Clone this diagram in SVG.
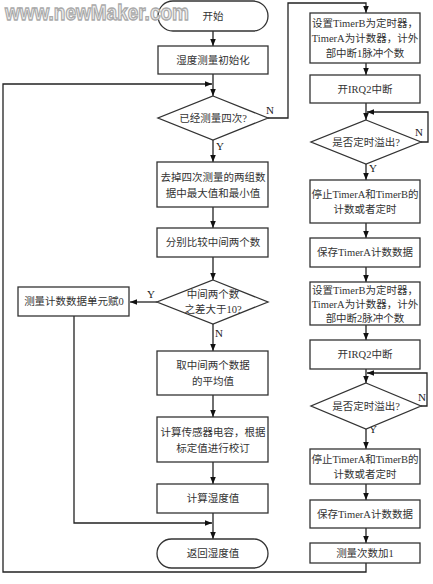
<svg xmlns="http://www.w3.org/2000/svg" width="433" height="584" viewBox="0 0 433 584">
<style>
.b{fill:#fff;stroke:#333;stroke-width:1.3}
.t{font-family:"Liberation Serif","Noto Sans CJK SC",serif;font-size:10.5px;fill:#333;text-anchor:middle}
.l{font-family:"Liberation Serif",serif;font-size:11px;fill:#222}
.c{fill:none;stroke:#222;stroke-width:1.3}
.wm{font-family:"Liberation Sans",sans-serif;font-weight:bold;font-size:19px;fill:#eee;stroke:#aaa;stroke-width:1.1}
</style>
<defs>
<marker id="a" viewBox="0 0 10 10" refX="10" refY="5" markerWidth="7" markerHeight="7" markerUnits="userSpaceOnUse" orient="auto">
<path d="M0,1 L10,5 L0,9 z" fill="#111"/>
</marker>
</defs>
<g id="connectors">
<path class="c" d="M213,31 V46" marker-end="url(#a)"/>
<path class="c" d="M213,74 V96" marker-end="url(#a)"/>
<path class="c" d="M366,563 V572 H3 V84 H212" marker-end="url(#a)"/>
<path class="c" d="M268,118 H288 V3 H366 V13" marker-end="url(#a)"/>
<path class="c" d="M213,140 V162" marker-end="url(#a)"/>
<path class="c" d="M213,207 V228" marker-end="url(#a)"/>
<path class="c" d="M213,257 V280" marker-end="url(#a)"/>
<path class="c" d="M157,302 H130" marker-end="url(#a)"/>
<path class="c" d="M213,324 V351" marker-end="url(#a)"/>
<path class="c" d="M213,395 V417" marker-end="url(#a)"/>
<path class="c" d="M213,462 V484" marker-end="url(#a)"/>
<path class="c" d="M213,513 V539" marker-end="url(#a)"/>
<path class="c" d="M74,316 V523 H212" marker-end="url(#a)"/>
<path class="c" d="M366,63 V75" marker-end="url(#a)"/>
<path class="c" d="M366,103 V120" marker-end="url(#a)"/>
<path class="c" d="M421,142 H428 V112 H367" marker-end="url(#a)"/>
<path class="c" d="M366,164 V180" marker-end="url(#a)"/>
<path class="c" d="M366,223 V238" marker-end="url(#a)"/>
<path class="c" d="M366,267 V282" marker-end="url(#a)"/>
<path class="c" d="M366,325 V340" marker-end="url(#a)"/>
<path class="c" d="M366,369 V383" marker-end="url(#a)"/>
<path class="c" d="M421,406 H427 V373 H367" marker-end="url(#a)"/>
<path class="c" d="M366,429 V449" marker-end="url(#a)"/>
<path class="c" d="M366,484 V500" marker-end="url(#a)"/>
<path class="c" d="M366,528 V543" marker-end="url(#a)"/>
<text class="l" x="266" y="114">N</text>
<text class="l" x="216" y="150">Y</text>
<text class="l" x="147" y="298">Y</text>
<text class="l" x="215" y="337">N</text>
<text class="l" x="415" y="136">N</text>
<text class="l" x="369" y="172">Y</text>
<text class="l" x="418" y="401">N</text>
<text class="l" x="369" y="433">Y</text>
</g>
<g id="start"><rect class="b" x="158" y="1" width="110" height="30" rx="15"/><text class="t" x="213" y="20">开始</text></g>
<g id="init"><rect class="b" x="158" y="46" width="110" height="28"/><text class="t" x="213" y="64">湿度测量初始化</text></g>
<g id="d1"><polygon class="b" points="213,96 268,118 213,140 158,118"/><text class="t" x="213" y="122">已经测量四次?</text></g>
<g id="remove"><rect class="b" x="157" y="162" width="111" height="45"/><text class="t" x="213" y="181">去掉四次测量的两组数</text><text class="t" x="213" y="197">据中最大值和最小值</text></g>
<g id="compare"><rect class="b" x="157" y="228" width="111" height="29"/><text class="t" x="213" y="246">分别比较中间两个数</text></g>
<g id="d2"><polygon class="b" points="213,280 268,302 213,324 157,302"/><text class="t" x="213" y="298">中间两个数</text><text class="t" x="213" y="313">之差大于10?</text></g>
<g id="zero"><rect class="b" x="18" y="287" width="111" height="29"/><text class="t" x="74" y="305">测量计数数据单元赋0</text></g>
<g id="avg"><rect class="b" x="157" y="351" width="111" height="44"/><text class="t" x="213" y="369">取中间两个数据</text><text class="t" x="213" y="385">的平均值</text></g>
<g id="calc"><rect class="b" x="157" y="417" width="111" height="45"/><text class="t" x="213" y="436">计算传感器电容，根据</text><text class="t" x="213" y="452">标定值进行校订</text></g>
<g id="hum"><rect class="b" x="157" y="484" width="111" height="29"/><text class="t" x="213" y="502">计算湿度值</text></g>
<g id="end"><rect class="b" x="157" y="539" width="111" height="29" rx="14.5"/><text class="t" x="213" y="557">返回湿度值</text></g>
<g id="r1"><rect class="b" x="310" y="13" width="110" height="50"/><text class="t" x="365" y="27">设置TimerB为定时器，</text><text class="t" x="365" y="42">TimerA为计数器，计外</text><text class="t" x="365" y="57">部中断1脉冲个数</text></g>
<g id="r2"><rect class="b" x="310" y="75" width="110" height="28"/><text class="t" x="365" y="93">开IRQ2中断</text></g>
<g id="r3"><polygon class="b" points="366,120 421,142 366,164 311,142"/><text class="t" x="366" y="146">是否定时溢出?</text></g>
<g id="r4"><rect class="b" x="310" y="180" width="110" height="43"/><text class="t" x="365" y="198">停止TimerA和TimerB的</text><text class="t" x="365" y="213">计数或者定时</text></g>
<g id="r5"><rect class="b" x="310" y="238" width="110" height="29"/><text class="t" x="365" y="256">保存TimerA计数数据</text></g>
<g id="r6"><rect class="b" x="310" y="282" width="110" height="43"/><text class="t" x="365" y="294">设置TimerB为定时器，</text><text class="t" x="365" y="308">TimerA为计数器，计外</text><text class="t" x="365" y="322">部中断2脉冲个数</text></g>
<g id="r7"><rect class="b" x="310" y="340" width="110" height="29"/><text class="t" x="365" y="358">开IRQ2中断</text></g>
<g id="r8"><polygon class="b" points="366,383 421,406 366,429 311,406"/><text class="t" x="366" y="410">是否定时溢出?</text></g>
<g id="r9"><rect class="b" x="310" y="449" width="110" height="35"/><text class="t" x="365" y="463">停止TimerA和TimerB的</text><text class="t" x="365" y="478">计数或者定时</text></g>
<g id="r10"><rect class="b" x="310" y="500" width="110" height="28"/><text class="t" x="365" y="518">保存TimerA计数数据</text></g>
<g id="r11"><rect class="b" x="310" y="543" width="110" height="20"/><text class="t" x="365" y="557">测量次数加1</text></g>
<text class="wm" x="5" y="20" transform="translate(0,-4) scale(1,1.2)">www.newMaker.com</text>
</svg>
